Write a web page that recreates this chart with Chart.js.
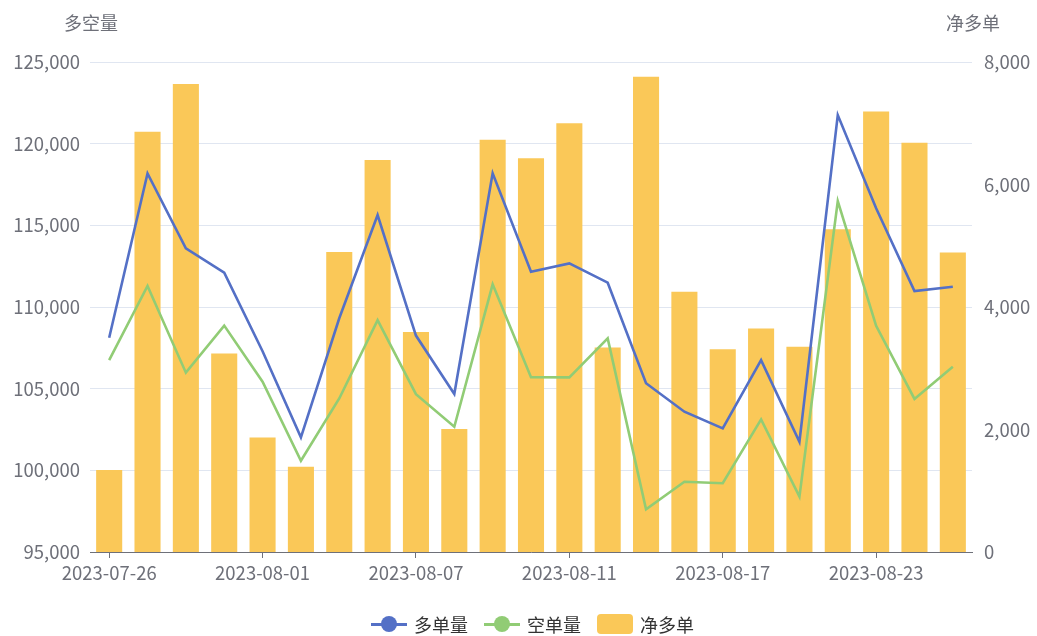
<!DOCTYPE html>
<html>
<head>
<meta charset="utf-8">
<script src="https://cdn.jsdelivr.net/npm/chart.js@4.4.0/dist/chart.umd.min.js"></script>
<style>
    body { margin: 0; background: #fff; }
    #wrap { position: relative; width: 1037px; height: 636px; }
    #legend {
        position: absolute; left: 0; right: 0; top: 612px; height: 24px;
        display: flex; justify-content: center; align-items: center;
        font: 18px "Noto Sans CJK SC", sans-serif; color: #333;
        padding-left: 28px;
    }
    .item { display: flex; align-items: center; margin: 0 8px; }
    .icon { width: 36px; height: 20px; margin-right: 7px; position: relative; }
    .icon.line::before {
        content: ''; position: absolute; left: 0; right: 0; top: 9px; height: 3px;
        background: var(--c);
    }
    .icon.line::after {
        content: ''; position: absolute; left: 10px; top: 2px; width: 16px; height: 16px;
        border-radius: 50%; background: var(--c);
    }
    .icon.bar { background: var(--c); border-radius: 4px; }
</style>
</head>
<body>
<div id="wrap">
    <canvas id="chart" width="1037" height="636"></canvas>
    <div id="legend"></div>
</div>
<script>
const dates = [
    '2023-07-26', '2023-07-27', '2023-07-28', '2023-07-31', '2023-08-01', '2023-08-02',
    '2023-08-03', '2023-08-04', '2023-08-07', '2023-08-08', '2023-08-09', '2023-08-10',
    '2023-08-11', '2023-08-14', '2023-08-15', '2023-08-16', '2023-08-17', '2023-08-18',
    '2023-08-21', '2023-08-22', '2023-08-23', '2023-08-24', '2023-08-25'
];

// 多单量
const longVolume = [
    108120, 118180, 113590, 112100, 107290, 102020, 109310, 115630, 108250, 104670, 118180, 112160,
    112670, 111490, 105330, 103590, 102570, 106750, 101750, 121750, 116040, 110980, 111240
];

// 空单量
const shortVolume = [
    106750, 111290, 105980, 108860, 105430, 100590, 104400, 109200, 104660, 102670, 111390, 105700,
    105690, 108080, 97610, 99300, 99210, 103120, 98390, 116490, 108850, 104370, 106340
];

// 净多单
const netLong = [
    1340, 6860, 7640, 3240, 1870, 1390, 4900, 6400, 3590, 2010, 6730, 6430,
    7000, 3340, 7760, 4250, 3310, 3650, 3350, 5270, 7190, 6680, 4890
];

const leftTicks = [95000, 100000, 105000, 110000, 115000, 120000, 125000];
const rightTicks = [0, 2000, 4000, 6000, 8000];

const BLUE = '#5470c6';
const GREEN = '#91cc75';
const YELLOW = '#fac858';
const TEXT = '#6e7079';
const FONT = '"Noto Sans CJK SC", sans-serif';

const axisNames = {
    id: 'axisNames',
    afterDraw(chart) {
        const { ctx, chartArea } = chart;
        ctx.save();
        ctx.fillStyle = TEXT;
        ctx.font = '18px ' + FONT;
        ctx.textAlign = 'center';
        ctx.textBaseline = 'middle';
        ctx.fillText('多空量', chartArea.left + 1, 23);
        ctx.fillText('净多单', chartArea.right + 1, 23);
        ctx.restore();
    }
};

const fmt = v => Number(v).toLocaleString('en-US');

new Chart(document.getElementById('chart'), {
    data: {
        labels: dates,
        datasets: [
            {
                type: 'line', label: '多单量', data: longVolume, yAxisID: 'y',
                borderColor: BLUE, backgroundColor: BLUE, borderWidth: 2.6,
                pointRadius: 0, tension: 0, order: 0
            },
            {
                type: 'line', label: '空单量', data: shortVolume, yAxisID: 'y',
                borderColor: GREEN, backgroundColor: GREEN, borderWidth: 2.6,
                pointRadius: 0, tension: 0, order: 0
            },
            {
                type: 'bar', label: '净多单', data: netLong, yAxisID: 'y1',
                backgroundColor: YELLOW, categoryPercentage: 1, barPercentage: 0.68, order: 1
            }
        ]
    },
    options: {
        responsive: false,
        animation: false,
        layout: { padding: { top: 62, bottom: 44, left: 0, right: 0 } },
        plugins: { legend: { display: false }, tooltip: { enabled: false } },
        scales: {
            x: {
                offset: true,
                afterFit: s => { s.height = 40; },
                grid: {
                    offset: false, drawOnChartArea: false, tickLength: 6,
                    color: c => (c.index % 4 === 0 ? TEXT : 'rgba(0,0,0,0)')
                },
                border: { color: TEXT, width: 1 },
                ticks: {
                    autoSkip: false, maxRotation: 0, padding: 4,
                    color: TEXT, font: { family: FONT, size: 18.5 },
                    callback: (v, i) => (i % 4 === 0 ? dates[i] : '')
                }
            },
            y: {
                position: 'left',
                min: leftTicks[0], max: leftTicks[leftTicks.length - 1],
                afterFit: s => { s.width = 90; },
                afterBuildTicks: s => { s.ticks = leftTicks.map(v => ({ value: v })); },
                grid: { color: '#e0e6f1', drawTicks: false },
                border: { display: false },
                ticks: { padding: 10, color: TEXT, font: { family: FONT, size: 18.5 }, callback: fmt }
            },
            y1: {
                position: 'right',
                min: rightTicks[0], max: rightTicks[rightTicks.length - 1],
                afterFit: s => { s.width = 65; },
                afterBuildTicks: s => { s.ticks = rightTicks.map(v => ({ value: v })); },
                grid: { display: false, drawTicks: false },
                border: { display: false },
                ticks: { padding: 12, color: TEXT, font: { family: FONT, size: 18.5 }, callback: fmt }
            }
        }
    },
    plugins: [axisNames]
});

// legend
const legend = document.getElementById('legend');
[['多单量', BLUE, 'line'], ['空单量', GREEN, 'line'], ['净多单', YELLOW, 'bar']].forEach(([name, color, kind]) => {
    const item = document.createElement('div');
    item.className = 'item';
    item.innerHTML = `<span class="icon ${kind}" style="--c:${color}"></span><span>${name}</span>`;
    legend.appendChild(item);
});
</script>
</body>
</html>
